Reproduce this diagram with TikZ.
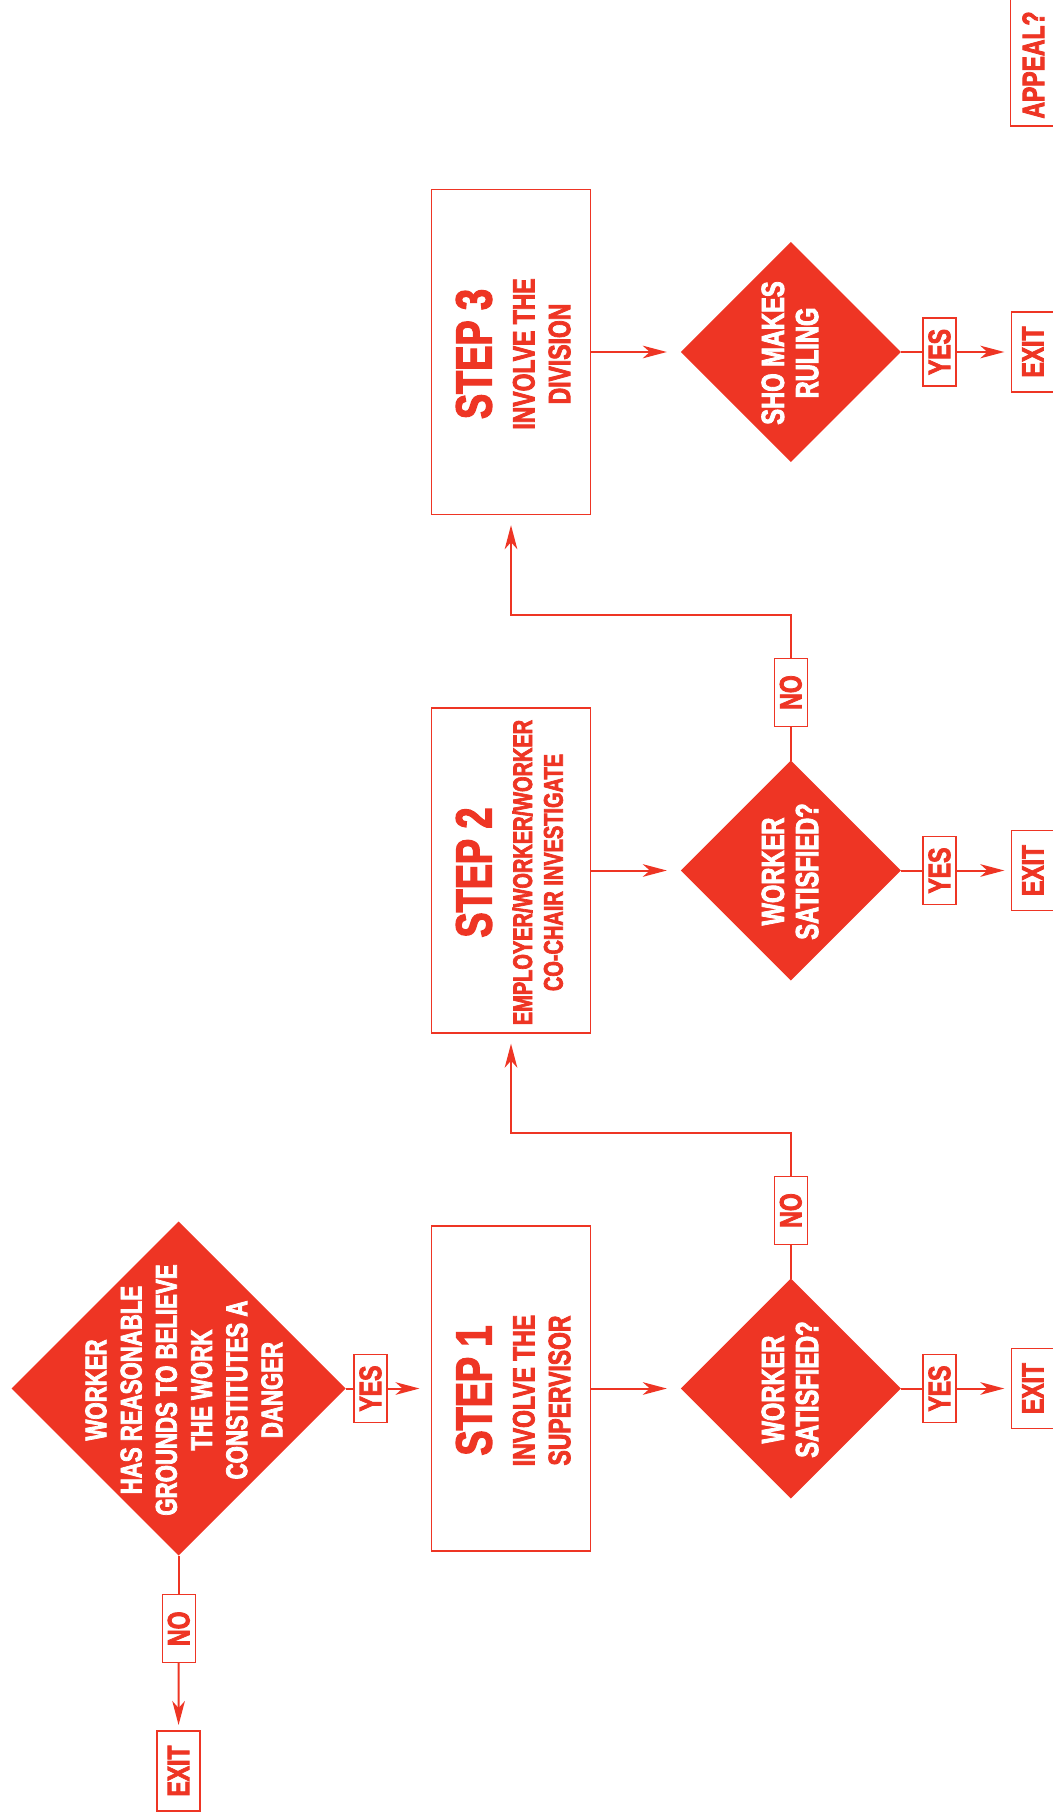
\documentclass[tikz,border=0pt]{standalone}
\usepackage{fontspec}
\setmainfont{Liberation Sans}[FakeStretch=0.74,BoldFeatures={FakeBold=2.5}]
\usetikzlibrary{shapes.geometric,arrows.meta}
\definecolor{fred}{RGB}{238,53,36}
\tikzset{
 conn/.style={draw=fred, line width=2pt},
 arr/.style={conn, -{Stealth[length=24pt,width=12.6pt,inset=7pt]}},
 stepbox/.style={draw=fred, line width=1.3pt, minimum width=159pt, minimum height=325pt, inner sep=0pt, outer sep=0pt, fill=white},
 dia/.style={diamond, fill=fred, minimum width=220pt, minimum height=220pt, inner sep=0pt, outer sep=0pt},
 bigdia/.style={dia, minimum width=334pt, minimum height=334pt},
 lbl/.style={draw=fred, line width=1.2pt, fill=white, rotate=90, minimum width=68pt, minimum height=33pt, inner sep=0pt, outer sep=0pt, text=fred, font=\bfseries\fontsize{31}{31}\selectfont},
 exitlbl/.style={lbl, minimum width=80pt, minimum height=43pt},
 rtext/.style={rotate=90, align=center, inner sep=0pt, outer sep=0pt},
 titletext/.style={rtext, text=fred, font=\bfseries\fontsize{51}{51}\selectfont},
 subtext/.style={rtext, text=fred, font=\bfseries\fontsize{31}{35.7}\selectfont},
 dtext/.style={rtext, text=white, font=\bfseries\fontsize{32}{34.2}\selectfont},
}
\begin{document}
\begin{tikzpicture}[x=1pt,y=-1pt]
\useasboundingbox (0,0) rectangle (1052,1819);
\def\ra{1388.5}
\def\rb{870.5}
\def\rc{352}
% start decision
\node[bigdia] (d0) at (178.7,\ra) {};
\node[rtext, text=white, font=\bfseries\fontsize{30}{35.2}\selectfont] (d0t) at (184,1390) {WORKER\\HAS REASONABLE\\GROUNDS TO BELIEVE\\THE WORK\\CONSTITUTES A\\DANGER};
\node[lbl] (yes0) at (370.5,\ra) {YES};
\node[lbl] (no0) at (178.7,1628.7) {NO};
\node[exitlbl] (exit0) at (178.5,1771) {EXIT};
% step boxes
\node[stepbox] (s1) at (511,\ra) {};
\node[stepbox] (s2) at (511,\rb) {};
\node[stepbox] (s3) at (511,\rc) {};
\node[titletext] (s1t) at (474,\ra+2) {STEP 1};
\node[subtext] (s1s) at (541.7,\ra+2) {INVOLVE THE\\SUPERVISOR};
\node[titletext] (s2t) at (474,\rb+2) {STEP 2};
\node[rtext, text=fred, font=\bfseries\fontsize{27}{30.7}\selectfont] (s2s) at (537.7,\rb+2) {EMPLOYER/WORKER/WORKER\\CO-CHAIR INVESTIGATE};
\node[titletext] (s3t) at (474,\rc+2) {STEP 3};
\node[subtext] (s3s) at (541.7,\rc+2) {INVOLVE THE\\DIVISION};
% decisions
\node[dia] (q1) at (790.8,\ra) {};
\node[dia] (q2) at (790.8,\rb) {};
\node[dia] (q3) at (790.8,\rc) {};
\node[dtext] (q1t) at (790,\ra+1) {WORKER\\SATISFIED?};
\node[dtext] (q2t) at (790,\rb+1) {WORKER\\SATISFIED?};
\node[dtext] (q3t) at (790,\rc+1) {SHO MAKES\\RULING};
% yes / exit right
\node[lbl] (yes1) at (939.5,\ra) {YES};
\node[lbl] (yes2) at (939.5,\rb) {YES};
\node[lbl] (yes3) at (939.5,\rc) {YES};
\node[exitlbl] (exit1) at (1032.8,\ra) {EXIT};
\node[exitlbl] (exit2) at (1032.8,\rb) {EXIT};
\node[exitlbl] (exit3) at (1032.8,\rc) {EXIT};
% no boxes
\node[lbl] (no1) at (790.8,\ra-178) {NO};
\node[lbl] (no2) at (790.8,\rb-178) {NO};
\coordinate (k1) at (790.8,\ra-256);
\coordinate (k2) at (790.8,\rb-256);
% appeal
\node[draw=fred, line width=1.2pt, fill=white, rotate=90, minimum width=156pt, minimum height=43pt, inner sep=0pt, outer sep=0pt] (apb) at (1032.2,48) {};
\node[rtext, text=fred, font=\bfseries\fontsize{31}{31}\selectfont] (apt) at (1033.3,65) {APPEAL?};
% connectors
\draw[conn] (d0.east) -- (yes0);
\draw[arr, shorten >=12pt] (yes0) -- (s1);
\draw[conn] (d0.south) -- (no0);
\draw[arr, shorten >=6pt] (no0) -- (exit0);
\draw[arr, shorten >=14pt] (s1) -- (q1);
\draw[arr, shorten >=14pt] (s2) -- (q2);
\draw[arr, shorten >=14pt] (s3) -- (q3);
\draw[conn] (q1.east) -- (yes1);
\draw[conn] (q2.east) -- (yes2);
\draw[conn] (q3.east) -- (yes3);
\draw[arr, shorten >=7pt] (yes1) -- (exit1);
\draw[arr, shorten >=7pt] (yes2) -- (exit2);
\draw[arr, shorten >=7pt] (yes3) -- (exit3);
\draw[conn] (q1.north) -- (no1);
\draw[conn] (q2.north) -- (no2);
\draw[arr, shorten >=10.7pt] (no1) -- (k1) -| (s2.south);
\draw[arr, shorten >=10.7pt] (no2) -- (k2) -| (s3.south);
\end{tikzpicture}
\end{document}
